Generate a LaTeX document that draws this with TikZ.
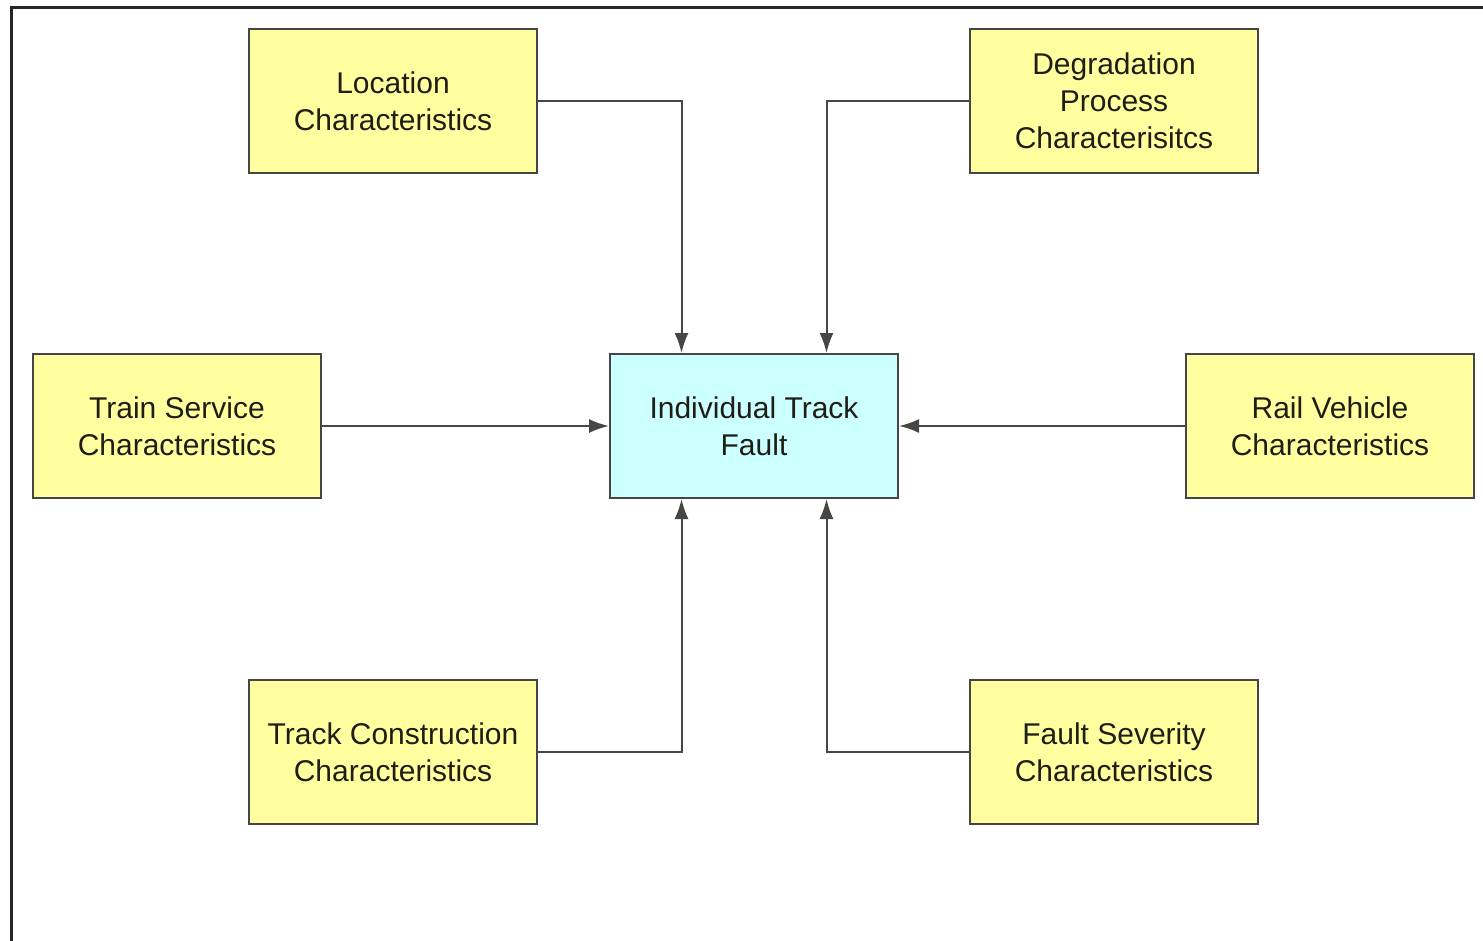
\documentclass[tikz,border=0pt]{standalone}
\usepackage{fontspec}
\setmainfont{Liberation Sans}
\usetikzlibrary{arrows.meta,calc}
\definecolor{boxyellow}{RGB}{255,255,160}
\definecolor{boxcyan}{RGB}{204,255,255}
\definecolor{linegray}{RGB}{70,70,70}
\definecolor{txt}{RGB}{30,30,20}
\begin{document}
\begin{tikzpicture}[x=0.5pt,y=-0.5pt,
  fbox/.style={draw=linegray,line width=1pt,minimum width=144pt,minimum height=72pt,inner sep=0pt,align=center,text=txt,font=\fontsize{15}{18.5}\selectfont},
  ybox/.style={fbox,fill=boxyellow},
  cbox/.style={fbox,fill=boxcyan},
  conn/.style={draw=linegray,line width=1pt,-{Latex[length=10pt,width=7pt]}}]
\useasboundingbox (0,0) rectangle (1483,941);
\draw[line width=1.5pt,black!85] (1483,8) -- (11,8) -- (11,941);
\node[ybox] (loc) at (393,101) {Location\\Characteristics};
\node[ybox] (deg) at (1114,101) {Degradation\\Process\\Characterisitcs};
\node[ybox] (train) at (177,426) {Train Service\\Characteristics};
\node[cbox] (ind) at (754,426) {Individual Track\\Fault};
\node[ybox] (rail) at (1330,426) {Rail Vehicle\\Characteristics};
\node[ybox] (tc) at (393,752) {Track Construction\\Characteristics};
\node[ybox] (fs) at (1114,752) {Fault Severity\\Characteristics};
\draw[conn] (loc.east) -| ($(ind.north west)!0.25!(ind.north east)$);
\draw[conn] (deg.west) -| ($(ind.north west)!0.75!(ind.north east)$);
\draw[conn] (train.east) -- (ind.west);
\draw[conn] (rail.west) -- (ind.east);
\draw[conn] (tc.east) -| ($(ind.south west)!0.25!(ind.south east)$);
\draw[conn] (fs.west) -| ($(ind.south west)!0.75!(ind.south east)$);
\end{tikzpicture}
\end{document}
